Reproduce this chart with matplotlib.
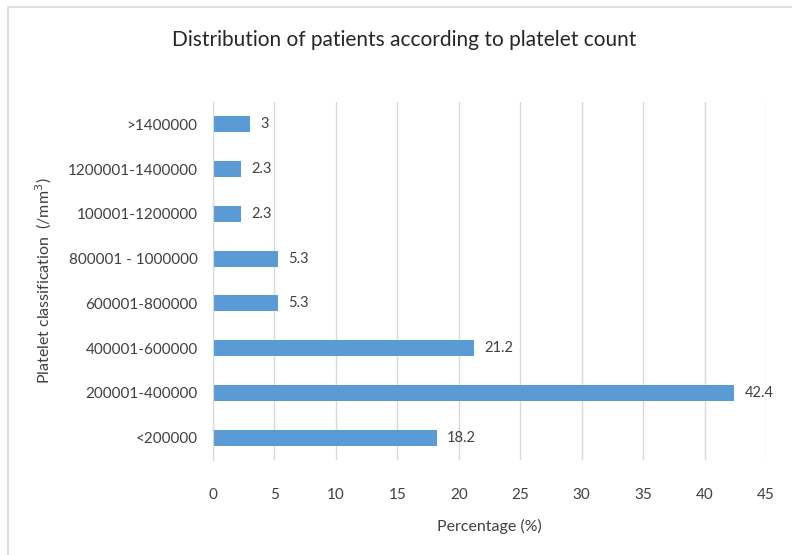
import matplotlib
matplotlib.use("Agg")
import matplotlib.pyplot as plt
from matplotlib.patches import Rectangle

categories = ["<200000", "200001-400000", "400001-600000", "600001-800000",
              "800001 - 1000000", "100001-1200000", "1200001-1400000", ">1400000"]
percentages = [18.2, 42.4, 21.2, 5.3, 5.3, 2.3, 2.3, 3]
xticks = [0, 5, 10, 15, 20, 25, 30, 35, 40, 45]

plt.rcParams["font.family"] = ["Lato", "DejaVu Sans"]

fig = plt.figure(figsize=(7.92, 5.55), dpi=100)
fig.patches.append(Rectangle((8 / 792, -0.01), 1.0, 1 - 7 / 555 + 0.01,
                             transform=fig.transFigure, fill=False,
                             edgecolor="#D9D9D9", linewidth=1.2))

ax = fig.add_axes([213 / 792, 1 - 460 / 555, (766 - 213) / 792, (460 - 102) / 555])
ypos = list(range(len(categories)))
ax.barh(ypos, percentages, height=0.36, color="#5B9BD5")

for y, v in zip(ypos, percentages):
    ax.text(v + 0.85, y, f"{v:g}", va="center", ha="left", fontsize=10.5, color="#404040")

ax.set_xlim(0, 45)
ax.set_ylim(-0.5, 7.5)
ax.set_xticks(xticks)
ax.set_yticks(ypos)
ax.set_yticklabels(categories)
ax.xaxis.grid(True, color="#D9D9D9", linewidth=1)
ax.set_axisbelow(True)
for side in ["top", "right", "bottom"]:
    ax.spines[side].set_visible(False)
ax.spines["left"].set_color("#D9D9D9")
ax.tick_params(axis="both", length=0, labelsize=11, labelcolor="#404040")
ax.tick_params(axis="x", pad=20)
ax.tick_params(axis="y", pad=11)

ax.set_xlabel("Percentage (%)", fontsize=11.5, color="#404040", labelpad=12)
ax.set_ylabel("Platelet classification  (/mm$^3$)", fontsize=11.5, color="#404040", labelpad=10)
fig.text(0.510, 1 - 40 / 555, "Distribution of patients according to platelet count",
         ha="center", va="center", fontsize=15, color="#262626")

fig.savefig("out.png", dpi=100)
